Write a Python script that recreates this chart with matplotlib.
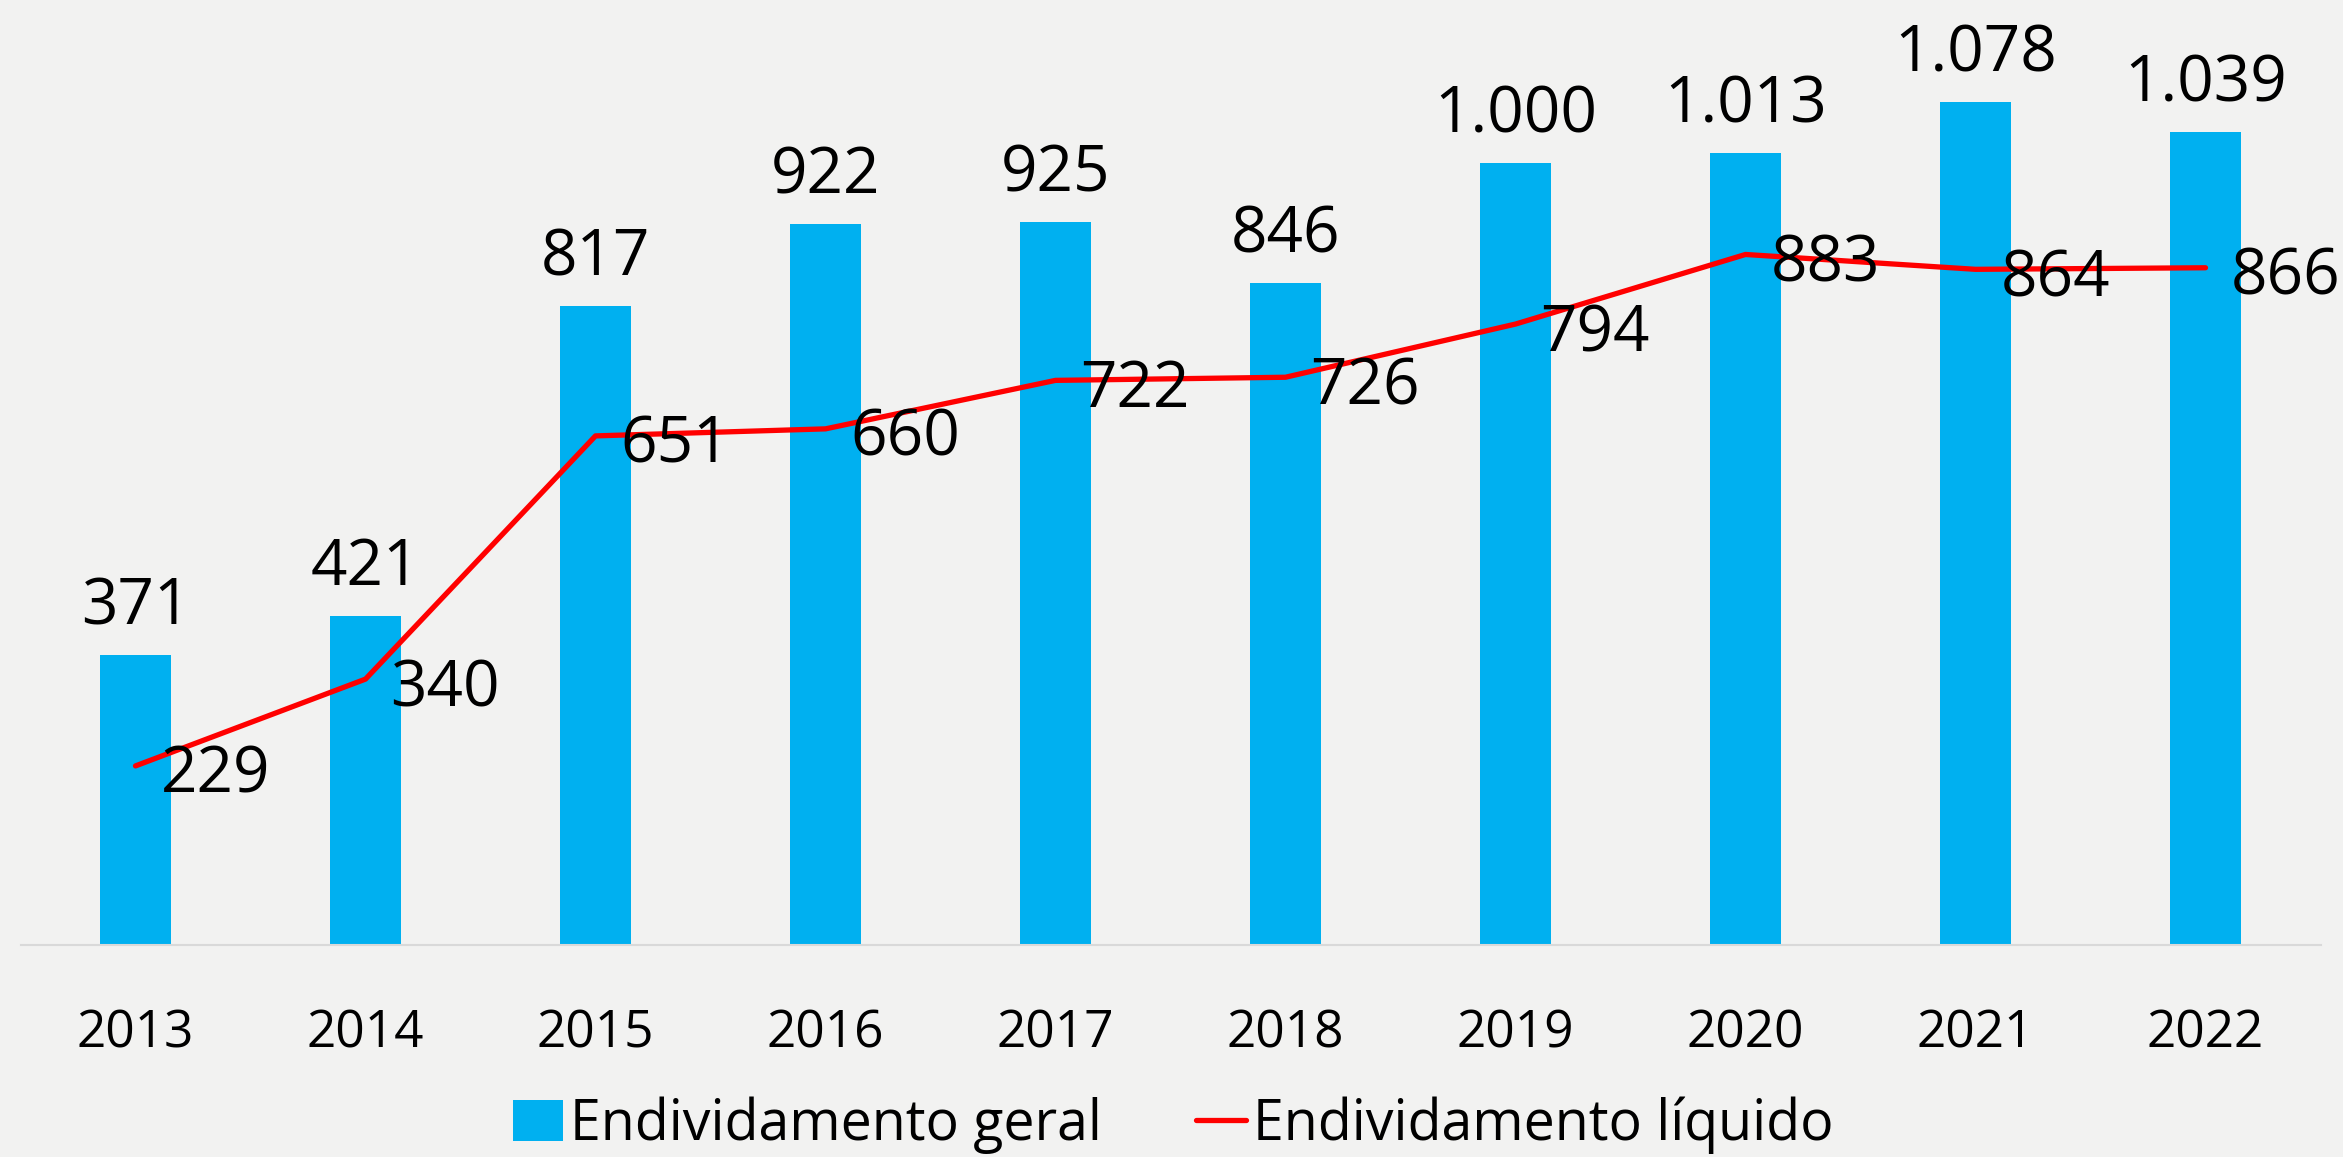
import matplotlib.pyplot as plt
import numpy as np

plt.rcParams['font.family'] = ['Open Sans', 'DejaVu Sans']

anos = ['2013', '2014', '2015', '2016', '2017', '2018', '2019', '2020', '2021', '2022']
geral = [371, 421, 817, 922, 925, 846, 1000, 1013, 1078, 1039]
liquido = [229, 340, 651, 660, 722, 726, 794, 883, 864, 866]

bg = '#F2F2F1'
azul = '#00B0F0'
vermelho = '#FF0000'

fig = plt.figure(figsize=(23.43, 11.57), dpi=100, facecolor=bg)
ax = fig.add_axes([20.5/2343, 1-945/1157, 2300/2343, 940/1157])
ax.set_facecolor(bg)

x = np.arange(len(anos))
barras = ax.bar(x, geral, width=0.313, color=azul, label='Endividamento geral', zorder=2)
linha, = ax.plot(x, liquido, color=vermelho, lw=3.8, solid_capstyle='round',
                 label='Endividamento líquido', zorder=3)

def fmt(v):
    return f"{v:,}".replace(',', '.')

for xi, v in zip(x, geral):
    ax.annotate(fmt(v), (xi, v), xytext=(0, 22), textcoords='offset points',
                ha='center', va='baseline', fontsize=46, color='black', zorder=4)

for xi, v in zip(x, liquido):
    ax.annotate(fmt(v), (xi, v), xytext=(18, -19.5), textcoords='offset points',
                ha='left', va='baseline', fontsize=46, color='black', zorder=4)

ax.set_xlim(-0.5, 9.5)
ax.set_ylim(0, 1202)
ax.set_xticks(x)
ax.set_xticklabels(anos, fontsize=37)
ax.tick_params(axis='x', length=0, pad=46)
ax.set_yticks([])
for s in ['top', 'right', 'left']:
    ax.spines[s].set_visible(False)
ax.spines['bottom'].set_color('#D9D9D9')
ax.spines['bottom'].set_linewidth(1.5)

fig.legend([barras, linha], ['Endividamento geral', 'Endividamento líquido'],
           loc='center', bbox_to_anchor=(0.5007, 1-1125/1157), ncol=2,
           frameon=False, fontsize=40, handlelength=0.9, handleheight=0.75,
           handletextpad=0.12, columnspacing=1.7, borderpad=0, borderaxespad=0)

fig.savefig('out.png', dpi=100, facecolor=bg)
